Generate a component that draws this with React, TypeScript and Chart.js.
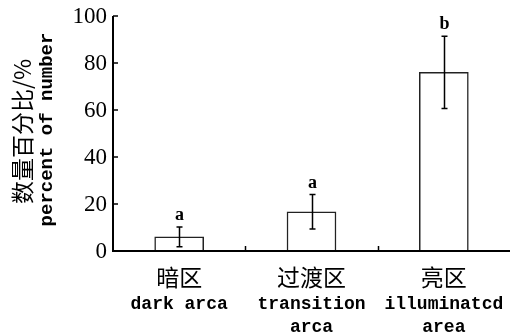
import React, { useEffect, useRef } from "react";
import { Chart, registerables } from "chart.js";

Chart.register(...registerables);

const categoriesZh = ["暗区", "过渡区", "亮区"];
const categoriesEn = [["dark arca"], ["transition", "arca"], ["illuminatcd", "area"]];
const means = [6, 16.7, 76];
const errors = [4.2, 7.3, 15.4];
const letters = ["a", "a", "b"];
const yTicks = [0, 20, 40, 60, 80, 100];
const yTitleZh = "数量百分比/%";
const yTitleEn = "percent of number";

const overlay = {
  id: "overlay",
  afterDatasetsDraw(chart: any) {
    const ctx = chart.ctx;
    const x = chart.scales.x;
    const y = chart.scales.y;
    const area = chart.chartArea;
    ctx.save();
    ctx.strokeStyle = "#000";
    ctx.lineWidth = 1.5;
    // error bars
    means.forEach((m, i) => {
      const cx = Math.round(x.getPixelForValue(i)) + 0.5;
      const top = y.getPixelForValue(m + errors[i]);
      const bot = y.getPixelForValue(m - errors[i]);
      ctx.beginPath();
      ctx.moveTo(cx, top);
      ctx.lineTo(cx, bot);
      ctx.moveTo(cx - 3, top);
      ctx.lineTo(cx + 3, top);
      ctx.moveTo(cx - 3, bot);
      ctx.lineTo(cx + 3, bot);
      ctx.stroke();
      ctx.fillStyle = "#000";
      ctx.font = "bold 18px 'Liberation Serif'";
      ctx.textAlign = "center";
      ctx.textBaseline = "alphabetic";
      ctx.fillText(letters[i], cx, top - 7);
    });
    // axes
    ctx.lineWidth = 2;
    ctx.beginPath();
    ctx.moveTo(area.left, area.top);
    ctx.lineTo(area.left, area.bottom);
    ctx.lineTo(area.right, area.bottom);
    ctx.stroke();
    // y ticks inward
    ctx.lineWidth = 1.5;
    yTicks.forEach((v) => {
      const py = Math.round(y.getPixelForValue(v));
      ctx.beginPath();
      ctx.moveTo(area.left, py);
      ctx.lineTo(area.left + 5, py);
      ctx.stroke();
      ctx.fillStyle = "#000";
      ctx.font = "23px 'Liberation Serif'";
      ctx.textAlign = "right";
      ctx.textBaseline = "middle";
      ctx.fillText(String(v), area.left - 6, py + 1);
    });
    // x boundary ticks
    for (let i = 0; i < means.length - 1; i++) {
      const bx = Math.round((x.getPixelForValue(i) + x.getPixelForValue(i + 1)) / 2) + 0.5;
      ctx.beginPath();
      ctx.moveTo(bx, area.bottom);
      ctx.lineTo(bx, area.bottom - 5);
      ctx.stroke();
    }
    // x labels
    ctx.fillStyle = "#000";
    ctx.textAlign = "center";
    ctx.textBaseline = "middle";
    categoriesZh.forEach((zh, i) => {
      const cx = x.getPixelForValue(i);
      ctx.font = "23px 'Noto Sans CJK SC'";
      ctx.fillText(zh, cx, area.bottom + 26);
      ctx.font = "bold 18px 'Liberation Mono'";
      categoriesEn[i].forEach((line, j) => {
        ctx.fillText(line, cx, area.bottom + 53 + j * 23);
      });
    });
    // y title
    const cy = (area.top + area.bottom) / 2;
    ctx.save();
    ctx.translate(22, cy - 2);
    ctx.rotate(-Math.PI / 2);
    ctx.font = "23px 'Noto Sans CJK SC'";
    ctx.fillText(yTitleZh, 0, 0);
    ctx.restore();
    ctx.save();
    ctx.translate(47, cy - 4);
    ctx.rotate(-Math.PI / 2);
    ctx.font = "bold 19px 'Liberation Mono'";
    ctx.fillText(yTitleEn, 0, 0);
    ctx.restore();
    ctx.restore();
  },
};

export default function App() {
  const ref = useRef<HTMLCanvasElement>(null);
  useEffect(() => {
    document.body.style.margin = "0";
    const chart = new Chart(ref.current as HTMLCanvasElement, {
      type: "bar",
      data: {
        labels: categoriesZh,
        datasets: [
          {
            data: means,
            backgroundColor: "#fff",
            borderColor: "#222",
            borderWidth: 1.5,
            barThickness: 49,
          },
        ],
      },
      options: {
        animation: false,
        responsive: false,
        layout: { padding: { top: 16, right: 0, left: 0, bottom: 0 } },
        plugins: { legend: { display: false }, tooltip: { enabled: false } },
        scales: {
          x: {
            grid: { display: false },
            border: { display: false },
            ticks: { display: false },
            afterFit: (s: any) => {
              s.height = 85;
            },
          },
          y: {
            min: 0,
            max: 100,
            grid: { display: false },
            border: { display: false },
            ticks: { display: false, stepSize: 20 },
            afterFit: (s: any) => {
              s.width = 113;
            },
          },
        },
      },
      plugins: [overlay],
    });
    return () => chart.destroy();
  }, []);
  return (
    <div style={{ width: 510, height: 336, background: "#fff" }}>
      <canvas ref={ref} width={510} height={336} />
    </div>
  );
}
